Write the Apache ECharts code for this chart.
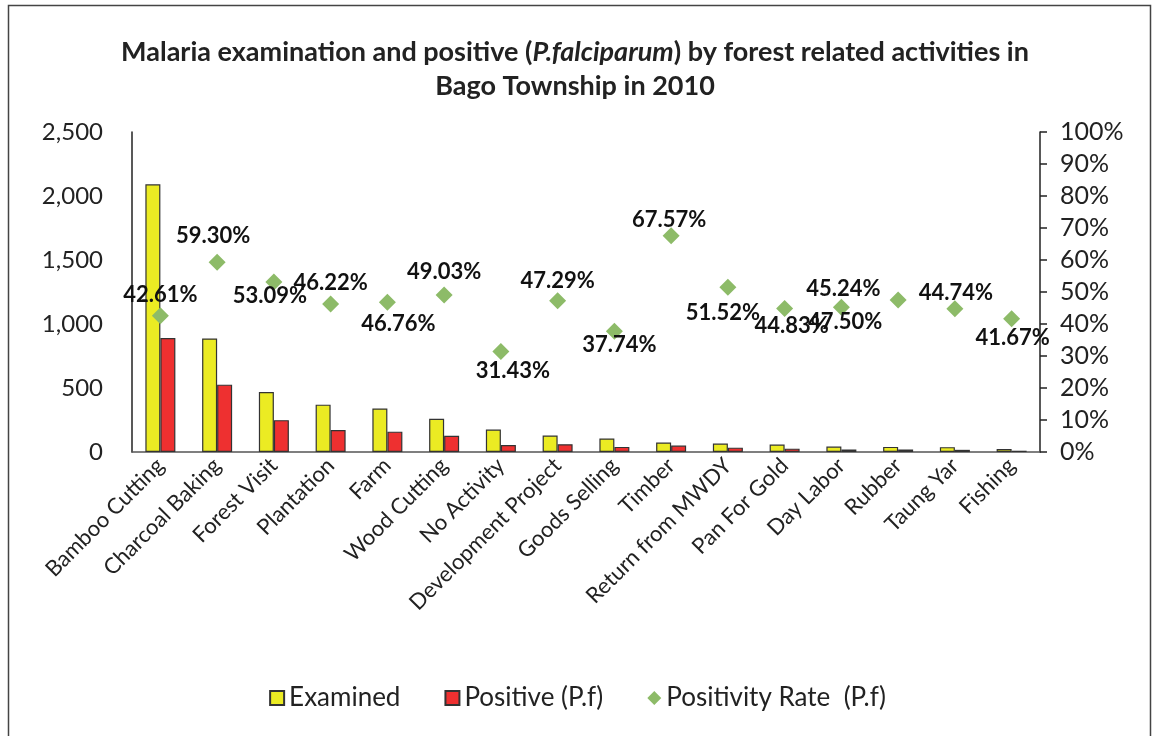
<!DOCTYPE html>
<html>
<head>
<meta charset="utf-8">
<title>Malaria examination and positive by forest related activities</title>
<script src="https://cdn.jsdelivr.net/npm/echarts@6/dist/echarts.min.js"></script>
<style>
  html, body { margin: 0; padding: 0; background: #fff; }
  #chart { width: 1155px; height: 736px; }
</style>
</head>
<body>
<div id="chart"></div>
<script>
// activities
const categories = [
  'Bamboo Cutting', 'Charcoal Baking', 'Forest Visit', 'Plantation', 'Farm',
  'Wood Cutting', 'No Activity', 'Development Project', 'Goods Selling', 'Timber',
  'Return from MWDY', 'Pan For Gold', 'Day Labor', 'Rubber', 'Taung Yar', 'Fishing'
];
// number examined
const examined = [2091, 887, 469, 370, 340, 259, 175, 129, 106, 74, 66, 58, 42, 40, 38, 24];
// positive (P.f)
const positive = [891, 526, 249, 171, 159, 127, 55, 61, 40, 50, 34, 26, 19, 19, 17, 10];
// positivity rate in percent, as labelled
const rate = [42.61, 59.30, 53.09, 46.22, 46.76, 49.03, 31.43, 47.29, 37.74, 67.57,
  51.52, 44.83, 45.24, 47.50, 44.74, 41.67];

const leftTicks = { min: 0, max: 2500, step: 500 };
const rightTicks = { min: 0, max: 1, step: 0.1 };

// where each rate label sits relative to its marker (px)
const labelOffset = [
  [0, -21], [-4, -26], [-4, 14], [0, -21], [11, 22], [0, -23], [12, 19], [0, -20],
  [5, 14], [-2, -16], [-5, 26], [7, 17], [2, -18], [-53, 22], [1, -16], [1, 19]
];

const font = 'Lato, "Open Sans", sans-serif';
const markerSize = 17;
const chart = echarts.init(document.getElementById('chart'));

const option = {
  backgroundColor: '#fff',
  animation: false,
  textStyle: { fontFamily: font },
  graphic: [{
    type: 'rect',
    shape: { x: 8.5, y: 5.5, width: 1142, height: 740 },
    style: { fill: 'none', stroke: '#444', lineWidth: 1.5 },
    silent: true
  }],
  title: {
    text: '{b|Malaria examination and positive (}{i|P.falciparum}{b|) by forest related activities in}\n{b|Bago Township in 2010}',
    left: 570,
    textAlign: 'center',
    top: 30,
    textStyle: {
      rich: {
        b: { fontSize: 27, fontWeight: 'bold', color: '#222', fontFamily: font, lineHeight: 34 },
        i: { fontSize: 27, fontWeight: 'bold', fontStyle: 'italic', color: '#222', fontFamily: font, lineHeight: 34 }
      }
    }
  },
  legend: {
    left: 'center',
    top: 680,
    itemGap: 44,
    itemWidth: 14,
    itemHeight: 14,
    textStyle: { fontSize: 26, color: '#222', fontFamily: font },
    data: [
      { name: 'Examined', icon: 'rect' },
      { name: 'Positive (P.f)', icon: 'rect' },
      { name: 'Positivity Rate  (P.f)', icon: 'diamond' }
    ]
  },
  grid: { left: 132, right: 115, top: 132, bottom: 284 },
  xAxis: {
    type: 'category',
    data: categories,
    axisLine: { lineStyle: { color: '#555', width: 1.5 } },
    axisTick: { show: false },
    axisLabel: {
      rotate: 45,
      interval: 0,
      margin: 10,
      fontSize: 22,
      color: '#222',
      fontFamily: font
    }
  },
  yAxis: [{
    type: 'value',
    min: leftTicks.min,
    max: leftTicks.max,
    interval: leftTicks.step,
    splitLine: { show: false },
    axisLine: { show: true, lineStyle: { color: '#222', width: 1.5 } },
    axisTick: { show: false },
    axisLabel: {
      fontSize: 24,
      color: '#222',
      margin: 29,
      fontFamily: font,
      formatter: v => v.toLocaleString('en-US')
    }
  }, {
    type: 'value',
    min: rightTicks.min,
    max: rightTicks.max,
    interval: rightTicks.step,
    splitLine: { show: false },
    axisLine: { show: true, lineStyle: { color: '#222', width: 1.5 } },
    axisTick: { show: true, inside: false, length: 7, lineStyle: { color: '#222', width: 1.5 } },
    axisLabel: {
      fontSize: 25,
      color: '#222',
      margin: 20,
      fontFamily: font,
      formatter: v => Math.round(v * 100) + '%'
    }
  }],
  series: [{
    name: 'Examined',
    type: 'bar',
    data: examined,
    barWidth: 15,
    barGap: '0%',
    itemStyle: { color: '#EBEB23', borderColor: '#333', borderWidth: 1.2 }
  }, {
    name: 'Positive (P.f)',
    type: 'bar',
    data: positive,
    barWidth: 15,
    barGap: '0%',
    itemStyle: { color: '#EE3030', borderColor: '#333', borderWidth: 1.2 }
  }, {
    name: 'Positivity Rate  (P.f)',
    type: 'scatter',
    yAxisIndex: 1,
    symbol: 'diamond',
    symbolSize: [markerSize, markerSize],
    itemStyle: { color: '#8DBB68', opacity: 1 },
    data: rate.map((r, i) => ({
      value: r / 100,
      label: { offset: labelOffset[i] }
    })),
    label: {
      show: true,
      position: [markerSize / 2, markerSize / 2],
      align: 'center',
      verticalAlign: 'middle',
      fontSize: 22,
      fontWeight: 'bold',
      color: '#111',
      opacity: 1,
      textBorderWidth: 0,
      fontFamily: font,
      formatter: p => rate[p.dataIndex].toFixed(2) + '%'
    },
    z: 5
  }]
};

chart.setOption(option);
</script>
</body>
</html>
